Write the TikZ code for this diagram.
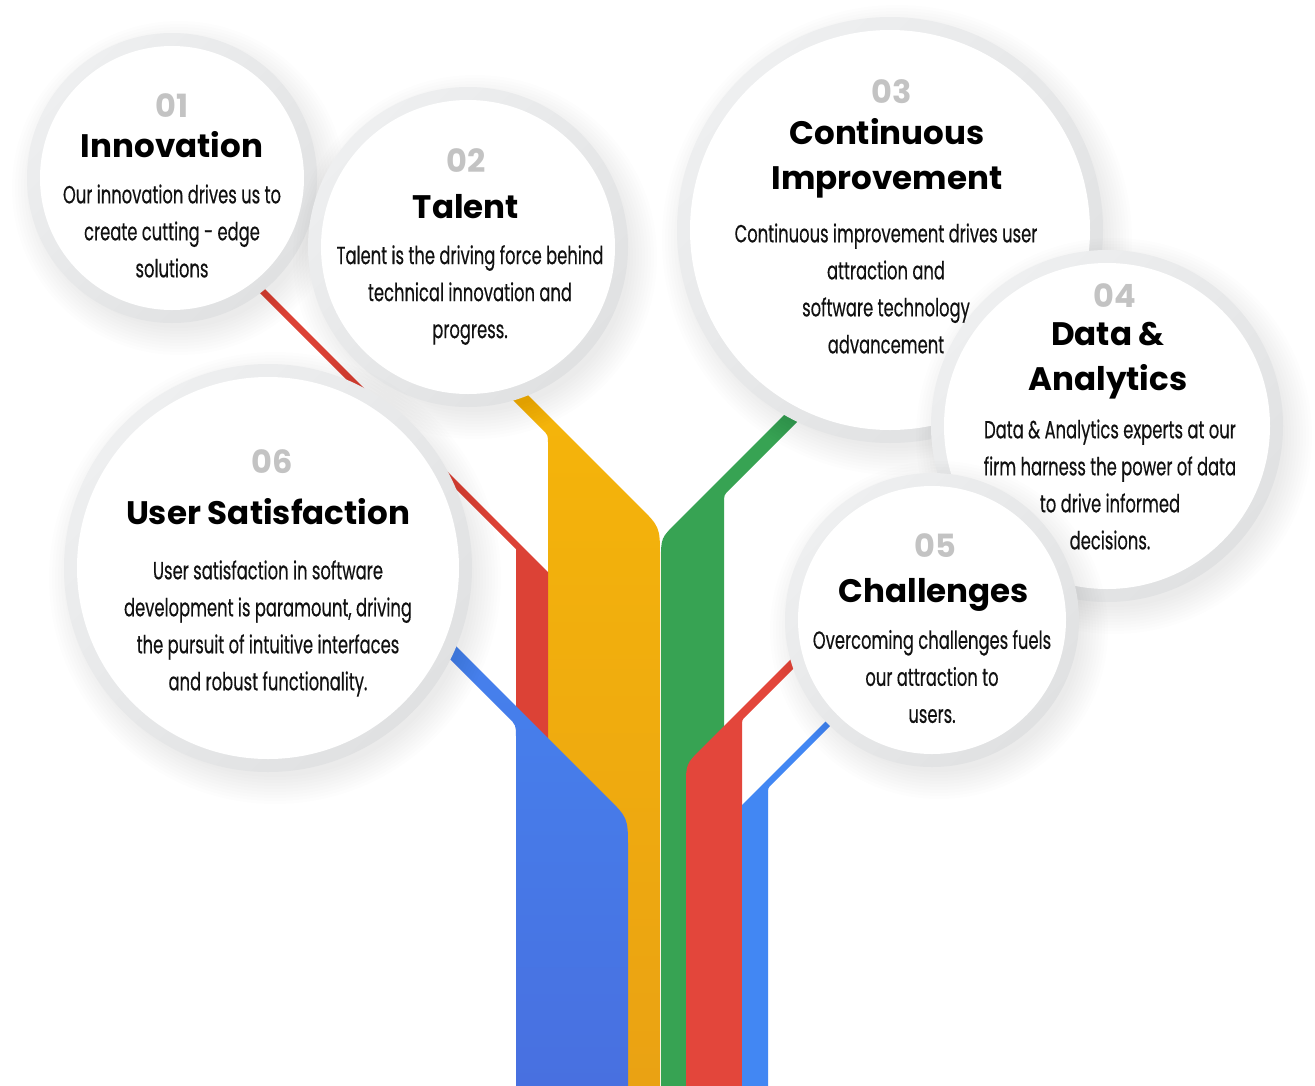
\documentclass[tikz,border=0pt]{standalone}
\usepackage{fontspec}
\setmainfont{Poppins}
\newfontfamily\bodyfont[FakeStretch=0.66, FakeBold=0.35]{Poppins}
\usetikzlibrary{calc}

\definecolor{ringlight}{HTML}{EEEFF0}
\definecolor{ringdark}{HTML}{E0E1E2}
\definecolor{numgray}{HTML}{C3C3C3}
\definecolor{inkblack}{HTML}{111111}
\definecolor{gblue}{HTML}{4682EE}
\definecolor{gbluedark}{HTML}{4870E0}
\definecolor{gyellow}{HTML}{F5B50A}
\definecolor{gyellowdark}{HTML}{EAA213}
\definecolor{ggreen}{HTML}{37A353}
\definecolor{gred}{HTML}{DC4236}
\definecolor{gredright}{HTML}{E3463B}
\definecolor{gblueright}{HTML}{4287F3}

\tikzset{
  bubble/.style={circle, inner sep=0pt, minimum size={1.5pt*#1},
    top color=ringlight, bottom color=ringdark, shading angle=45,
    path picture={\fill[white] (path picture bounding box.center) circle[radius={(#1-13)*0.75pt}];}},
  numtext/.style={anchor=base, text=numgray, font=\fontsize{24}{28}\selectfont\bfseries},
  titletext/.style={text=black, font=\fontsize{24.4}{33.75}\selectfont\bfseries},
  bodytext/.style={align=center, text=inkblack, font=\bodyfont\fontsize{18.6}{27.75}\selectfont},
}

\begin{document}
\begin{tikzpicture}[x=0.75pt, y=-0.75pt]
\fill[white] (0,0) rectangle (1315,1086);
\useasboundingbox (0,0) rectangle (1315,1086);

% trunk
\shade[top color=gyellow, bottom color=gyellowdark] (513,380) -- (639,506) .. controls (660,527) .. (660,557) -- (660,1086) -- (548,1086) -- (548,443) .. controls (548,435) .. (542,429) -- (493,380) -- cycle;
\fill[ggreen] (839,380) -- (729.7,489.3) .. controls (724,495) .. (724,503) -- (724,1086) -- (661,1086) -- (661,560) .. controls (661,538) .. (676.5,522.5) -- (819,380) -- cycle;
\fill[gred] (220,244) -- (548,572) -- (548,1086) -- (516,1086) -- (516,549) -- (211,244) -- cycle;
\fill[gredright] (822,640) -- (746,716) .. controls (742,720) .. (742,726) -- (742,1086) -- (686,1086) -- (686,786) .. controls (686,764) .. (701.5,748.5) -- (810,640) -- cycle;
\shade[top color=gblue, bottom color=gbluedark] (420,610) -- (607,797) .. controls (628,818) .. (628,848) -- (628,1086) -- (516,1086) -- (516,737) .. controls (516,725) .. (507.5,716.5) -- (401,610) -- cycle;
\fill[gblueright] (876,680) -- (772,784) .. controls (768,788) .. (768,794) -- (768,1086) -- (742,1086) -- (742,805) -- (867,680) -- cycle;

% bubbles with soft shadow
\foreach \nm/\cx/\cy/\r in {c1/172/178/145, c2/468/247/160, c6/268/568/204, c3/890/230/213, c4/1107/426/176, c5/932/620/147}{
  \foreach \k in {1,...,10}
    \fill[black, opacity=0.009] (\cx+7,\cy+10) circle[radius=\r-8+3*\k];
  \node[bubble=\r] (\nm) at (\cx,\cy) {};
}

% 01
\node[numtext] (n1) at (172,117) {01};
\node[titletext, anchor=base] (t1) at (172,157) {Innovation};
\node[bodytext] (d1) at (172,231) {Our innovation drives us to\\create cutting - edge\\solutions};
% 02
\node[numtext] (n2) at (466,172) {02};
\node[titletext, anchor=base] (t2) at (466,218) {Talent};
\node[bodytext] (d2) at (470,295) {Talent is the driving force behind\\technical innovation and\\progress.};
% 03
\node[numtext] (n3) at (892,103) {03};
\node[titletext, align=center] (t3) at (887,158.5) {Continuous\\Improvement};
\node[bodytext] (d3) at (886,288.5) {Continuous improvement drives user\\attraction and\\software technology\\advancement};
% 04
\node[numtext] (n4) at (1115,307) {04};
\node[titletext, align=center] (t4) at (1108,360.5) {Data \&\\Analytics};
\node[bodytext] (d4) at (1110,484.5) {Data \& Analytics experts at our\\firm harness the power of data\\to drive informed\\decisions.};
% 05
\node[numtext] (n5) at (935,557) {05};
\node[titletext, anchor=base] (t5) at (934,602) {Challenges};
\node[bodytext] (d5) at (932,676.5) {Overcoming challenges fuels\\our attraction to\\users.};
% 06
\node[numtext] (n6) at (272,473) {06};
\node[titletext, anchor=base] (t6) at (268,524) {User Satisfaction};
\node[bodytext] (d6) at (268,628.5) {User satisfaction in software\\development is paramount, driving\\the pursuit of intuitive interfaces\\and robust functionality.};
\end{tikzpicture}
\end{document}
